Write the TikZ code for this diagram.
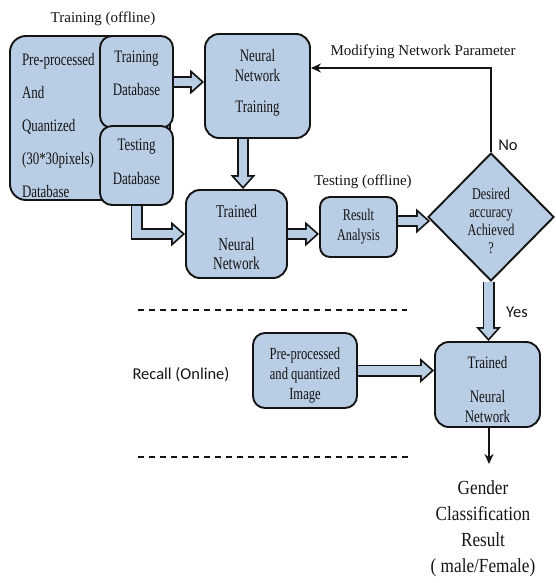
\documentclass[tikz,border=0pt]{standalone}
\usepackage{fontspec}
\setmainfont{Liberation Serif}
\newfontfamily\condserif[FakeStretch=0.74]{Liberation Serif}
\newfontfamily\gendserif[FakeStretch=0.86]{Liberation Serif}
\newfontfamily\calib{Carlito}
\usetikzlibrary{arrows.meta,shapes.geometric,backgrounds,calc}
\definecolor{boxblue}{HTML}{B9CDE5}
\definecolor{edgeclr}{HTML}{141414}
\newcommand\fatarrow[1]{%
  \draw[line width=12pt, draw=edgeclr, line join=miter,
        -{Triangle[length=14pt,width=25pt,line width=0pt]}] #1;
  \draw[line width=8.4pt, draw=boxblue, line join=miter, shorten >=2.7pt,
        -{Triangle[length=9.5pt,width=17pt,line width=0pt]}] #1;}
\tikzset{
  blk/.style={draw=edgeclr, line width=1.9pt, fill=boxblue, rounded corners=#1, inner sep=0pt},
  blk/.default=13pt,
  lbl/.style={align=center, text=edgeclr, inner sep=0pt,
              font=\condserif\fontsize{17.5}{20}\selectfont},
  ttl/.style={text=edgeclr, inner sep=0pt, font=\fontsize{15}{18}\selectfont},
  sanslbl/.style={text=edgeclr, inner sep=0pt, font=\calib\fontsize{16.5}{20}\selectfont},
  gend/.style={align=center, text=edgeclr, inner sep=0pt,
               font=\gendserif\fontsize{20}{26}\selectfont},
  thinarrow/.style={draw=edgeclr, line width=1.8pt, -{Stealth[length=10pt,width=9pt]}},
  dashline/.style={draw=edgeclr, line width=1.8pt, dash pattern=on 6pt off 5pt}
}
\begin{document}
\begin{tikzpicture}[x=1pt,y=-1pt]
\useasboundingbox (0,0) rectangle (555,583);

% titles
\node[ttl] (ttrain) at (103,19) {Training (offline)};
\node[ttl] (ttest) at (363,182) {Testing (offline)};
\node[ttl] (tmod) at (423,52) {Modifying Network Parameter};
\node[sanslbl] (tno) at (508,145) {No};
\node[sanslbl] (tyes) at (517,312) {Yes};
\node[sanslbl] (trecall) at (181,375) {Recall (Online)};

% source database block
\node[blk=16pt, minimum width=160pt, minimum height=164pt,
      label={[lbl, align=left, text width=136pt, yshift=-8pt, font=\condserif\fontsize{17.5}{33}\selectfont]center:{Pre-processed\\And\\Quantized\\(30*30pixels)\\Database}}]
      (src) at (90,118) {};
\node[blk=12pt, minimum width=73pt, minimum height=92pt,
      label={[lbl, yshift=8.5pt, font=\condserif\fontsize{17.5}{33}\selectfont]center:{Training\\Database}}]
      (traindb) at (136.5,82) {};
\node[blk=12pt, minimum width=73pt, minimum height=79pt,
      label={[lbl, yshift=3.5pt, font=\condserif\fontsize{17.5}{34}\selectfont]center:{Testing\\Database}}]
      (testdb) at (136.5,165.5) {};

% network boxes
\node[blk=14pt, minimum width=105pt, minimum height=104pt,
      label={[lbl, yshift=3.5pt]center:{Neural\\Network\\[11pt]Training}}]
      (nnt) at (257.5,86) {};
\node[blk=14pt, minimum width=101pt, minimum height=88pt,
      label={[lbl, yshift=-3.5pt, font=\condserif\fontsize{18}{19}\selectfont]center:{Trained\\[14pt]Neural\\Network}}]
      (trained) at (236.5,234) {};
\node[blk=10pt, minimum width=77pt, minimum height=60pt,
      label={[lbl, font=\condserif\fontsize{16.5}{20}\selectfont]center:{Result\\Analysis}}]
      (result) at (358.5,227) {};
\node[diamond, draw=edgeclr, line width=1.9pt, fill=boxblue, inner sep=0pt,
      minimum width=126pt, minimum height=128pt,
      label={[lbl, yshift=-4pt, font=\condserif\fontsize{16.5}{18}\selectfont]center:{Desired\\accuracy\\Achieved\\?}}]
      (diam) at (491,217) {};
\node[blk=12pt, minimum width=104pt, minimum height=75pt,
      label={[lbl, yshift=-4.5pt, font=\condserif\fontsize{17}{20}\selectfont]center:{Pre-processed\\and quantized\\Image}}]
      (img) at (305,370.5) {};
\node[blk=14pt, minimum width=105pt, minimum height=85pt,
      label={[lbl, yshift=-5.5pt, font=\condserif\fontsize{17.5}{20}\selectfont]center:{Trained\\[14pt]Neural\\Network}}]
      (nn2) at (487.5,384.5) {};

\node[gend] (gender) at (483,529) {Gender\\Classification\\Result\\( male/Female)};

% helper coordinates
\coordinate (a2) at ([xshift=-14.5pt]nnt.south);
\coordinate (a5s) at ([yshift=6pt]result.east);
\path (diam.west |- a5s) ++(3,0) coordinate (a5e);
\coordinate (a6) at ([xshift=-2.5pt]diam.south);
\coordinate (gtop) at (489,464);
\coordinate (fb) at ([yshift=18pt]nnt.east);

\begin{pgfonlayer}{background}
  \fatarrow{(traindb.east) -- (traindb.east -| nnt.west)}
  \fatarrow{(a2) -- (a2 |- trained.north)}
  \fatarrow{(testdb.south) |- (trained.west)}
  \fatarrow{(trained.east) -- (trained.east -| result.west)}
  \fatarrow{(a5s) -- (a5e)}
  \fatarrow{(a6) -- (a6 |- nn2.north)}
  \fatarrow{(img.east) -- (img.east -| nn2.west)}
\end{pgfonlayer}

\draw[thinarrow] (diam.north) |- (fb);
\draw[thinarrow] (nn2.south -| gtop) -- (gtop);

% separators
\draw[dashline] (138,310) -- (407,310);
\draw[dashline] (138,457) -- (409,457);
\end{tikzpicture}
\end{document}
